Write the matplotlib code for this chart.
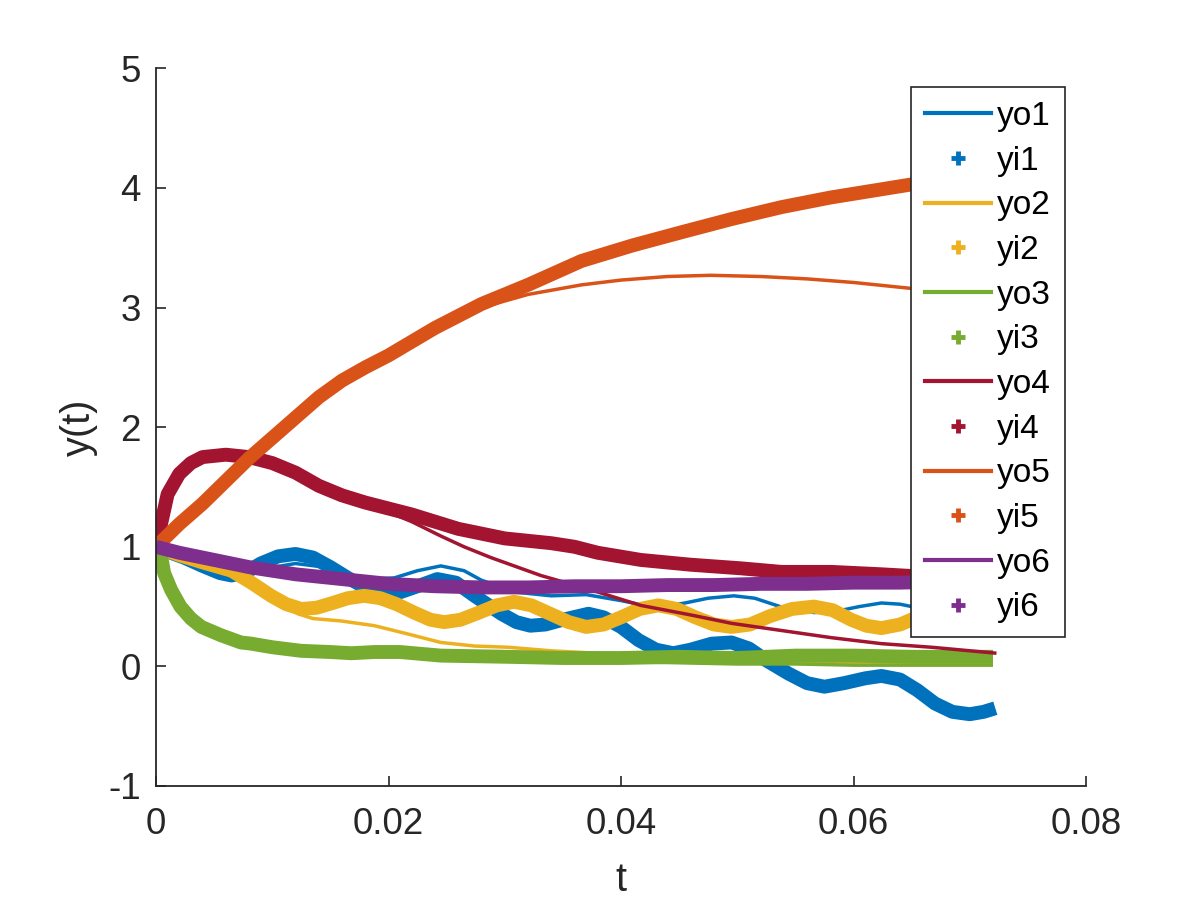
import numpy as np
import matplotlib
matplotlib.use("Agg")
import matplotlib.pyplot as plt
from matplotlib.lines import Line2D

plt.rcParams['font.family'] = ['Liberation Sans', 'DejaVu Sans']

# couleurs MATLAB par defaut
couleurs = ['#0072BD', '#EDB120', '#77AC30', '#A2142F', '#D95319', '#7E2F8E']

# serie 1 (bleu)
t_yo1 = [0, .002, .004, .0065, .0095, .012, .0145, .0165, .018, .0205, .0225, .0245, .0265,
         .028, .031, .034, .037, .040, .043, .0455, .0475, .0497, .0515, .054, .0566, .0585,
         .0605, .0624, .064, .066, .069, .072]
yo1 = [1.0, 0.92, 0.82, 0.76, 0.82, 0.86, 0.83, 0.76, 0.73, 0.74, 0.80, 0.84, 0.80,
       0.72, 0.62, 0.59, 0.60, 0.55, 0.49, 0.53, 0.57, 0.59, 0.57, 0.49, 0.45, 0.46,
       0.50, 0.53, 0.52, 0.48, 0.44, 0.46]
t_yi1 = [0, .001, .0024, .0040, .0055, .0065, .0078, .009, .0105, .012, .0135, .0150, .0165,
         .0180, .0195, .0210, .0225, .0242, .0258, .0274, .0297, .0310, .0322, .0335, .0350,
         .0372, .0385, .0400, .0415, .0430, .0445, .0460, .0478, .0495, .0510, .0525, .0544,
         .0560, .0575, .0592, .0610, .0624, .0640, .0655, .0670, .0685, .0700, .0712, .0722]
yi1 = [1.0, 0.96, 0.91, 0.84, 0.78, 0.76, 0.79, 0.86, 0.92, 0.94, 0.91, 0.83, 0.74,
       0.66, 0.62, 0.62, 0.67, 0.73, 0.70, 0.59, 0.44, 0.37, 0.34, 0.35, 0.39,
       0.44, 0.41, 0.33, 0.22, 0.14, 0.11, 0.14, 0.19, 0.20, 0.15, 0.05, -0.06,
       -0.14, -0.17, -0.14, -0.10, -0.08, -0.11, -0.20, -0.31, -0.38, -0.40, -0.38, -0.35]

# serie 2 (jaune)
t_yo2 = [0, .002, .004, .0065, .0082, .0099, .0112, .0122, .0135, .0159, .0188, .0217, .0245,
         .0274, .0303, .034, .038, .042, .046, .050, .056, .062, .072]
yo2 = [1.0, 0.93, 0.87, 0.80, 0.70, 0.59, 0.50, 0.44, 0.40, 0.38, 0.34, 0.27, 0.20,
       0.17, 0.16, 0.13, 0.11, 0.08, 0.06, 0.05, 0.04, 0.03, 0.03]
t_yi2 = [0, .002, .004, .0065, .0082, .0099, .0112, .0125, .0138, .0152, .0165, .0179, .0193,
         .0207, .0222, .0236, .0248, .0262, .0278, .0293, .0308, .0323, .0339, .0355, .037,
         .0385, .0400, .0416, .0432, .0448, .0464, .048, .0495, .0511, .0528, .0547, .0566,
         .0582, .0598, .0611, .0624, .0640, .0657, .0674, .069, .0705, .072]
yi2 = [1.0, 0.93, 0.87, 0.80, 0.70, 0.59, 0.52, 0.48, 0.49, 0.53, 0.57, 0.59, 0.57,
       0.52, 0.45, 0.39, 0.37, 0.39, 0.45, 0.51, 0.54, 0.51, 0.44, 0.37, 0.33,
       0.35, 0.41, 0.48, 0.51, 0.48, 0.41, 0.35, 0.33, 0.35, 0.42, 0.48, 0.50,
       0.47, 0.39, 0.34, 0.32, 0.35, 0.42, 0.47, 0.48, 0.46, 0.43]

# serie 3 (vert)
t_yo3 = [0, .0004, .0007, .0013, .0021, .003, .0039, .0056, .0073, .010, .0125, .0168, .021,
         .0245, .030, .035, .040, .045, .050, .055, .060, .065, .072]
yo3 = [1.0, 0.94, 0.78, 0.64, 0.50, 0.40, 0.33, 0.26, 0.20, 0.16, 0.13, 0.11, 0.10,
       0.08, 0.06, 0.05, 0.04, 0.03, 0.02, 0.02, 0.01, 0.01, 0.01]
t_yi3 = [0, .0004, .0007, .0013, .0021, .003, .0039, .0056, .0073, .0082, .010, .0125, .015,
         .0168, .0188, .021, .0245, .0303, .035, .040, .045, .050, .055, .060, .065, .072]
yi3 = [1.0, 0.94, 0.78, 0.64, 0.50, 0.40, 0.33, 0.26, 0.20, 0.19, 0.16, 0.13, 0.12,
       0.11, 0.12, 0.12, 0.09, 0.08, 0.07, 0.07, 0.08, 0.07, 0.09, 0.09, 0.08, 0.08]

# serie 4 (rouge fonce)
t_yo4 = [0, .0005, .001, .002, .003, .004, .006, .008, .010, .012, .014, .016, .018, .020,
         .022, .0245, .0265, .0288, .0331, .0374, .0417, .046, .0495, .0538, .0581, .0624,
         .0667, .0723]
yo4 = [1.0, 1.22, 1.44, 1.61, 1.70, 1.75, 1.77, 1.75, 1.70, 1.62, 1.51, 1.43, 1.36, 1.29,
       1.21, 1.09, 1.00, 0.91, 0.76, 0.64, 0.51, 0.43, 0.36, 0.30, 0.24, 0.19,
       0.16, 0.11]
t_yi4 = [0, .0005, .001, .002, .003, .004, .006, .008, .010, .012, .014, .016, .018, .020,
         .022, .024, .026, .028, .030, .032, .034, .036, .038, .0417, .046, .0503, .0538,
         .0581, .0624, .066, .069, .072]
yi4 = [1.0, 1.22, 1.44, 1.61, 1.70, 1.75, 1.77, 1.75, 1.70, 1.62, 1.51, 1.43, 1.37, 1.32,
       1.27, 1.21, 1.15, 1.11, 1.07, 1.05, 1.03, 1.00, 0.95, 0.89, 0.85, 0.82, 0.79,
       0.79, 0.77, 0.75, 0.73, 0.72]

# serie 5 (orange)
t_yo5 = [0, .002, .004, .006, .008, .010, .012, .014, .016, .018, .020, .024, .026, .028,
         .032, .0366, .040, .044, .0477, .052, .056, .060, .065, .068, .072]
yo5 = [1.0, 1.19, 1.36, 1.55, 1.74, 1.91, 2.08, 2.25, 2.39, 2.50, 2.60, 2.83, 2.93, 3.00,
       3.11, 3.19, 3.23, 3.26, 3.27, 3.26, 3.24, 3.21, 3.16, 3.12, 3.07]
t_yi5 = [0, .002, .004, .006, .008, .010, .012, .014, .016, .018, .020, .024, .028, .032,
         .0366, .041, .0452, .0495, .0538, .058, .065, .072]
yi5 = [1.0, 1.19, 1.36, 1.55, 1.74, 1.91, 2.08, 2.25, 2.39, 2.50, 2.60, 2.83, 3.03, 3.19,
       3.39, 3.52, 3.63, 3.74, 3.84, 3.92, 4.03, 4.12]

# serie 6 (violet)
t_y6 = [0, .002, .004, .006, .008, .010, .012, .014, .016, .018, .020, .024, .028, .032,
        .036, .040, .044, .048, .052, .056, .060, .064, .068, .072]
yo6 = [1.0, 0.95, 0.91, 0.87, 0.83, 0.80, 0.77, 0.75, 0.73, 0.71, 0.69, 0.67, 0.66, 0.66,
       0.67, 0.67, 0.68, 0.68, 0.69, 0.69, 0.70, 0.70, 0.71, 0.71]
yi6 = [1.0, 0.95, 0.91, 0.87, 0.83, 0.80, 0.77, 0.75, 0.73, 0.71, 0.69, 0.67, 0.66, 0.66,
       0.67, 0.67, 0.68, 0.68, 0.69, 0.69, 0.70, 0.70, 0.71, 0.71]

series = [
    (t_yo1, yo1, t_yi1, yi1),
    (t_yo2, yo2, t_yi2, yi2),
    (t_yo3, yo3, t_yi3, yi3),
    (t_yo4, yo4, t_yi4, yi4),
    (t_yo5, yo5, t_yi5, yi5),
    (t_y6, yo6, t_y6, yi6),
]

gris = '#262626'

fig = plt.figure(figsize=(12, 9), dpi=100)
ax = fig.add_axes([0.13, 0.1267, 0.775, 0.7973])

poignees = []
noms = []
for i, (to, yo, ti, yi) in enumerate(series):
    c = couleurs[i]
    ax.plot(to, yo, color=c, lw=2.5, solid_capstyle='butt', solid_joinstyle='round')
    ax.plot(ti, yi, color=c, lw=10, solid_capstyle='butt', solid_joinstyle='round')
    poignees.append(Line2D([], [], color=c, lw=3))
    poignees.append(Line2D([], [], color=c, ls='none', marker='+', ms=10, mew=3.5))
    noms += ['yo%d' % (i + 1), 'yi%d' % (i + 1)]

ax.set_xlim(0, 0.08)
ax.set_ylim(-1, 5)
ax.set_xticks([0, 0.02, 0.04, 0.06, 0.08])
ax.set_xticklabels(['0', '0.02', '0.04', '0.06', '0.08'])
ax.set_yticks(range(-1, 6))
ax.set_yticklabels(['-1', '0', '1', '2', '3', '4', '5'])

for s in ['top', 'right']:
    ax.spines[s].set_visible(False)
for s in ['left', 'bottom']:
    ax.spines[s].set_color(gris)
    ax.spines[s].set_linewidth(1.3)
ax.tick_params(direction='in', length=7, width=1.2, color=gris, labelcolor=gris,
               labelsize=26.5)
ax.tick_params(axis='x', pad=15)
ax.tick_params(axis='y', pad=11)
ax.set_xlabel('t', fontsize=28.5, color=gris, labelpad=14)
ax.set_ylabel('y(t)', fontsize=28.5, color=gris, labelpad=7)

leg = ax.legend(poignees, noms, loc='upper right', bbox_to_anchor=(0.8875, 0.9033),
                bbox_transform=fig.transFigure, fontsize=24, frameon=True, fancybox=False,
                framealpha=1, edgecolor=gris, handlelength=1.97, handletextpad=0.18,
                labelspacing=0.41, borderpad=0.42, borderaxespad=0)
leg.get_frame().set_linewidth(1.2)

fig.savefig('out.png', dpi=100)
